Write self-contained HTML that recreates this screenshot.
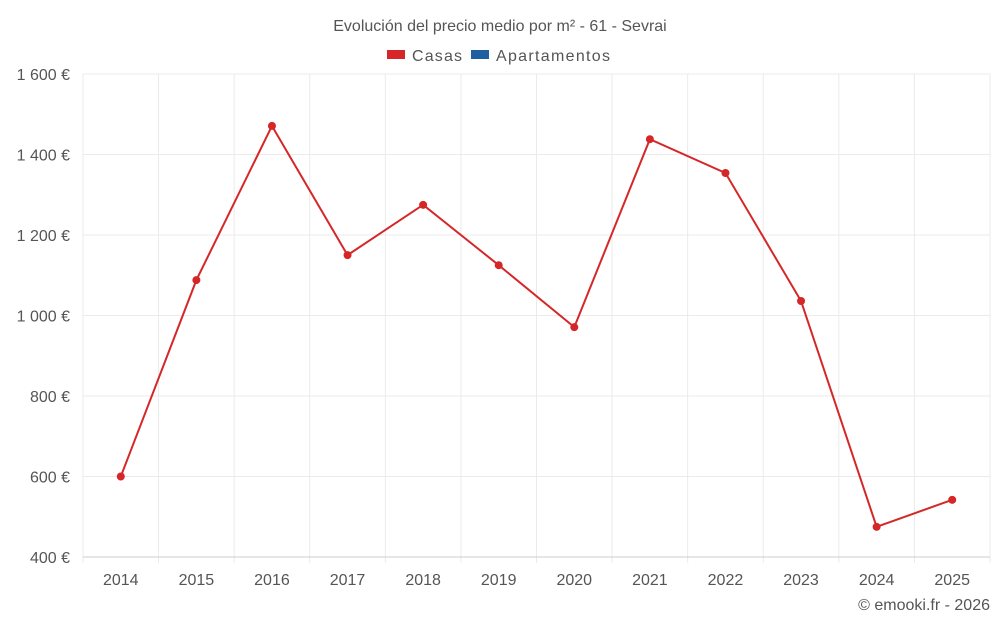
<!DOCTYPE html>
<html><head><meta charset="utf-8"><style>
body{margin:0;background:#fff;font-family:"Liberation Sans",sans-serif;}
svg text{font-family:"Liberation Sans",sans-serif;fill:#555;}
</style></head><body>
<svg id="chart" width="1000" height="625" viewBox="0 0 1000 625" xmlns="http://www.w3.org/2000/svg">
<text x="500" y="31" text-anchor="middle" font-size="16">Evolución del precio medio por m² - 61 - Sevrai</text>
<g>
<g><rect x="387" y="50" width="18" height="9" fill="#d62728"/><text x="412" y="61" font-size="16" textLength="50">Casas</text></g>
<g><rect x="471" y="50" width="18" height="9" fill="#1f5fa0"/><text x="496" y="61" font-size="16" textLength="114">Apartamentos</text></g>
</g>
<g id="grid"></g><g id="axes"></g><g id="series"></g>
<text x="990" y="610" text-anchor="end" font-size="16">© emooki.fr - 2026</text>
</svg>
<script>
const years=["2014","2015","2016","2017","2018","2019","2020","2021","2022","2023","2024","2025"];
const casas=[600,1088,1471,1150,1275,1125,971,1438,1354,1036,475,542];
const yTicks=[400,600,800,1000,1200,1400,1600];
const yTickLabels=["400 €","600 €","800 €","1 000 €","1 200 €","1 400 €","1 600 €"];
const NS="http://www.w3.org/2000/svg";
const L=83,R=990,T=74,B=557,yMin=400,yMax=1600;
const step=(R-L)/years.length;
const x=i=>L+step*(i+0.5);
const y=v=>B-(v-yMin)/(yMax-yMin)*(B-T);
function mk(tag,attrs,parent){const e=document.createElementNS(NS,tag);for(const k in attrs)e.setAttribute(k,attrs[k]);document.getElementById(parent).appendChild(e);return e;}
for(let i=0;i<=years.length;i++){
 const g=mk('line',{x1:L+step*i,x2:L+step*i,y1:T,y2:B+6,stroke:'#ebebeb'},'grid');
 
 
}
yTicks.forEach((t,i)=>{
 const g=mk('line',{x1:L,x2:R,y1:y(t),y2:y(t),stroke:i==0?'#ccc':'#ebebeb'},'grid');
 
 
 const tx=mk('text',{x:70,y:y(t)+6,'text-anchor':'end','font-size':16},'axes');tx.textContent=yTickLabels[i];
 
 
});
years.forEach((yr,i)=>{
 const tx=mk('text',{x:x(i),y:585,'text-anchor':'middle','font-size':16},'axes');tx.textContent=yr;
 
 
});
const line=mk('polyline',{points:casas.map((v,i)=>x(i)+','+y(v)).join(' '),fill:'none',stroke:'#d62728','stroke-width':2},'series');


casas.forEach((v,i)=>{
 const c=mk('circle',{cx:x(i),cy:y(v),r:4,fill:'#d62728'},'series');
 
 
});
</script>
</body></html>
